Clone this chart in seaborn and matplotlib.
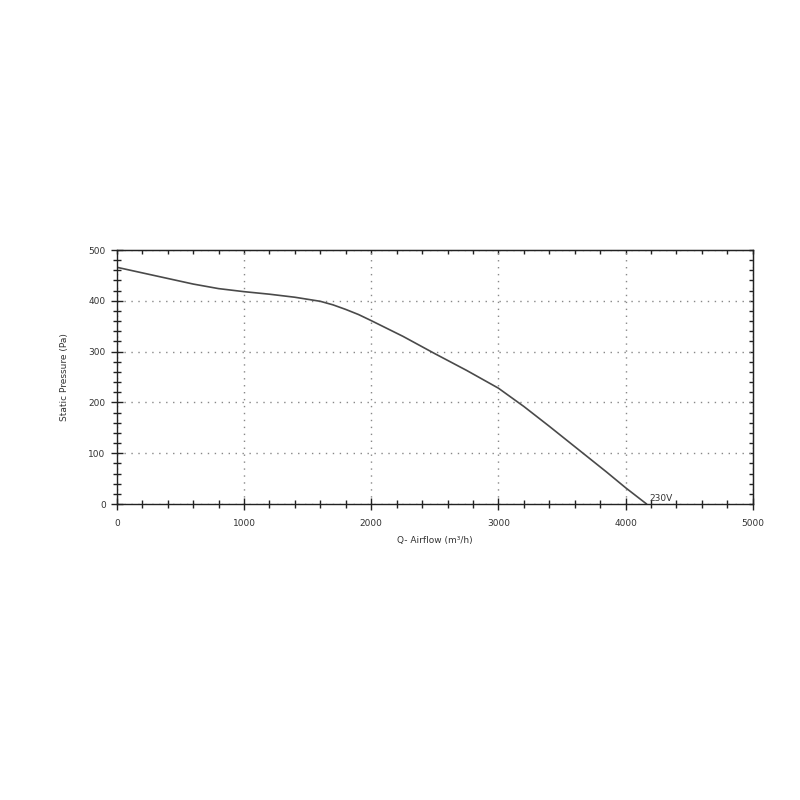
import numpy as np
import pandas as pd
import seaborn as sns
import matplotlib.pyplot as plt
from matplotlib.ticker import MultipleLocator, NullFormatter

sns.set_style('white')

airflow = [0, 200, 400, 600, 800, 1000, 1200, 1400, 1600, 1700, 1800, 1900,
           2000, 2250, 2500, 2750, 3000, 3200, 3400, 3665, 3850, 4000, 4165]
pressure = [466, 455, 444, 433, 424, 418, 413, 407, 399, 392, 383, 373,
            361, 330, 296, 263, 228, 192, 153, 100, 63, 32, 0]
curve_label = '230V'

df = pd.DataFrame({'airflow': airflow, 'pressure': pressure})

fig = plt.figure(figsize=(8, 8), dpi=100)
ax = fig.add_axes([0.146, 0.37, 0.795, 0.3175])

sns.lineplot(data=df, x='airflow', y='pressure', ax=ax, color='#4a4a4a',
             linewidth=1.2, estimator=None)

ax.set_xlim(0, 5000)
ax.set_ylim(0, 500)
ax.xaxis.set_major_locator(MultipleLocator(1000))
ax.xaxis.set_minor_locator(MultipleLocator(200))
ax.yaxis.set_major_locator(MultipleLocator(100))
ax.yaxis.set_minor_locator(MultipleLocator(20))

ax.grid(True, which='major', color='#888888', linestyle=(0, (1, 4)), linewidth=1)

for s in ax.spines.values():
    s.set_color('#222222')
    s.set_linewidth(1)

# left / bottom: ticks crossing the spine
ax.tick_params(axis='both', which='major', direction='inout', length=9,
               width=1, color='#222222', labelsize=6.5, labelcolor='#333333',
               left=True, bottom=True, top=False, right=False)
ax.tick_params(axis='both', which='minor', direction='inout', length=6,
               width=1, color='#222222', left=True, bottom=True,
               top=False, right=False)
ax.tick_params(axis='x', pad=6)

# top / right: short inward ticks, no labels
top = ax.secondary_xaxis('top')
top.xaxis.set_major_locator(MultipleLocator(1000))
top.xaxis.set_minor_locator(MultipleLocator(200))
top.xaxis.set_major_formatter(NullFormatter())
top.tick_params(which='both', direction='in', length=3, width=1, color='#222222')
top.spines['top'].set_color('#222222')

right = ax.secondary_yaxis('right')
right.yaxis.set_major_locator(MultipleLocator(100))
right.yaxis.set_minor_locator(MultipleLocator(20))
right.yaxis.set_major_formatter(NullFormatter())
right.tick_params(which='both', direction='in', length=3, width=1, color='#222222')
right.spines['right'].set_color('#222222')

ax.set_xlabel('Q- Airflow (m³/h)', fontsize=6.5, color='#333333', labelpad=6)
ax.set_ylabel('Static Pressure (Pa)', fontsize=6.5, color='#333333', labelpad=14)

ax.text(4190, 6, curve_label, fontsize=6.5, color='#333333')

fig.savefig('out.png', dpi=100)
